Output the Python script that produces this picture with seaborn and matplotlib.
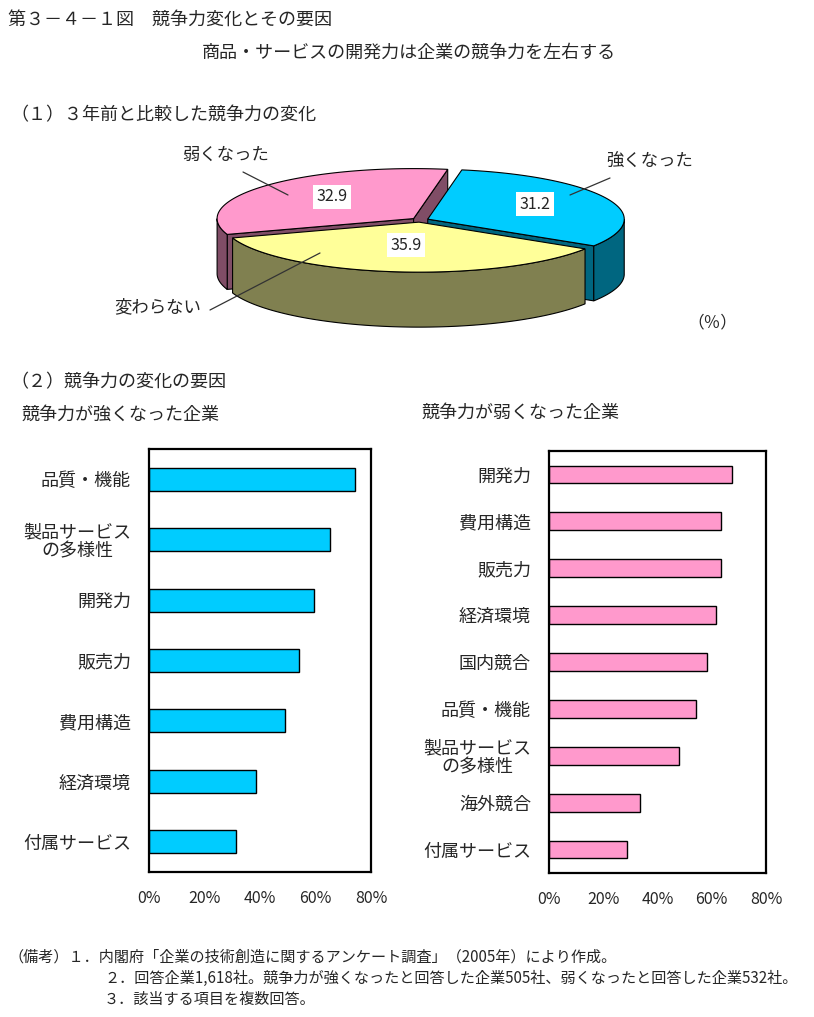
import numpy as np
import pandas as pd
import matplotlib
matplotlib.use("Agg")
import matplotlib.pyplot as plt
import seaborn as sns
from matplotlib.patches import Polygon

# ---------------- data ----------------
pie_labels = ["強くなった", "変わらない", "弱くなった"]
pie_values = [31.2, 35.9, 32.9]

strong_factors = ["品質・機能", "製品サービス\nの多様性", "開発力", "販売力",
                  "費用構造", "経済環境", "付属サービス"]
strong_values = [74.3, 65.4, 59.6, 54.2, 49.1, 38.7, 31.5]

weak_factors = ["開発力", "費用構造", "販売力", "経済環境", "国内競合",
                "品質・機能", "製品サービス\nの多様性", "海外競合", "付属サービス"]
weak_values = [67.6, 63.5, 63.5, 61.7, 58.4, 54.3, 48.0, 33.7, 28.9]

x_ticks = [0, 20, 40, 60, 80]
x_ticklabels = ["0%", "20%", "40%", "60%", "80%"]

title = "第３－４－１図　競争力変化とその要因"
subtitle = "商品・サービスの開発力は企業の競争力を左右する"
sec1 = "（１）３年前と比較した競争力の変化"
sec2 = "（２）競争力の変化の要因"
sub_left = "競争力が強くなった企業"
sub_right = "競争力が弱くなった企業"
notes = ["（備考）１．内閣府「企業の技術創造に関するアンケート調査」（2005年）により作成。",
         "２．回答企業1,618社。競争力が強くなったと回答した企業505社、弱くなったと回答した企業532社。",
         "３．該当する項目を複数回答。"]

# ---------------- style ----------------
sns.set_theme(style="white")
plt.rcParams['font.family'] = ['Noto Sans CJK JP', 'DejaVu Sans']
FS = 13

W, H = 814, 1017
fig = plt.figure(figsize=(W / 100, H / 100), dpi=100)
fig.patch.set_facecolor("white")
bg = fig.add_axes([0, 0, 1, 1])
bg.set_xlim(0, W)
bg.set_ylim(H, 0)
bg.axis("off")


def fax(l, t, r, b):
    return fig.add_axes([l / W, 1 - b / H, (r - l) / W, (b - t) / H])


# ---------------- texts ----------------
bg.text(8, 20, title, fontsize=FS, va="center", ha="left")
bg.text(409, 53, subtitle, fontsize=FS, va="center", ha="center")
bg.text(10, 115, sec1, fontsize=FS, va="center", ha="left")
bg.text(712, 323, "（％）", fontsize=12, va="center", ha="center")
bg.text(10, 382, sec2, fontsize=FS, va="center", ha="left")
bg.text(22, 415, sub_left, fontsize=FS, va="center", ha="left")
bg.text(422, 413, sub_right, fontsize=FS, va="center", ha="left")
NFS = 10.9
bg.text(8, 957, notes[0], fontsize=NFS, va="center", ha="left")
bg.text(104, 978, notes[1], fontsize=NFS, va="center", ha="left")
bg.text(104, 999, notes[2], fontsize=NFS, va="center", ha="left")

# ---------------- 3D pie ----------------
cx, cy, a, b, depth = 420, 220, 196.5, 50, 55
explode = 0.043
start = 80.0
tops = ["#00CCFF", "#FFFF99", "#FF99CC"]
sides = ["#006680", "#808050", "#804D66"]

slices = []
cum = 0.0
for i, v in enumerate(pie_values):
    hi = start - cum * 3.6
    lo = hi - v * 3.6
    cum += v
    mid = np.deg2rad((hi + lo) / 2)
    ox = explode * a * np.cos(mid)
    oy = -explode * b * np.sin(mid)
    slices.append(dict(i=i, lo=np.deg2rad(lo), hi=np.deg2rad(hi), mid=mid, ox=ox, oy=oy))


def rim(s, t, dz=0.0):
    return (cx + s["ox"] + a * np.cos(t), cy + s["oy"] - b * np.sin(t) + dz)


order = sorted(slices, key=lambda s: cy + s["oy"] - b * np.sin(s["mid"]))
for s in order:
    i = s["i"]
    c0 = (cx + s["ox"], cy + s["oy"])
    # radial cut faces
    for t, vis in ((s["hi"], np.cos(s["hi"]) < 0), (s["lo"], np.cos(s["lo"]) > 0)):
        if vis:
            p = [c0, rim(s, t), rim(s, t, depth), (c0[0], c0[1] + depth)]
            bg.add_patch(Polygon(p, closed=True, fc=sides[i], ec="black", lw=0.8))
    # curved wall
    ts = np.linspace(s["lo"], s["hi"], 400)
    mask = np.sin(ts) < 0
    if mask.any():
        idx = np.where(mask)[0]
        splits = np.split(idx, np.where(np.diff(idx) != 1)[0] + 1)
        for seg in splits:
            tt = ts[seg]
            top = [rim(s, t) for t in tt]
            bot = [rim(s, t, depth) for t in tt[::-1]]
            bg.add_patch(Polygon(top + bot, closed=True, fc=sides[i], ec="black", lw=0.8))
    # top face
    tt = np.linspace(s["lo"], s["hi"], 300)
    poly = [c0] + [rim(s, t) for t in tt]
    bg.add_patch(Polygon(poly, closed=True, fc=tops[i], ec="black", lw=0.8))

# value labels
for s in slices:
    r = 0.55
    x = cx + s["ox"] + r * a * np.cos(s["mid"])
    y = cy + s["oy"] - r * b * np.sin(s["mid"]) - 4
    if s["i"] == 0:
        x += 8
    bg.text(x, y, f"{pie_values[s['i']]:.1f}", fontsize=11.5, ha="center", va="center",
            bbox=dict(fc="white", ec="none", pad=2.5), zorder=5)

# category labels with leader lines
lab_pos = {0: (650, 162), 1: (158, 307), 2: (226, 155)}
lead = {0: ((610, 178), (570, 195)), 1: ((210, 310), (320, 253)), 2: ((243, 172), (288, 195))}
for i, name in enumerate(pie_labels):
    bg.text(*lab_pos[i], name, fontsize=12.5, ha="center", va="center")
    (x0, y0), (x1, y1) = lead[i]
    bg.plot([x0, x1], [y0, y1], color="#333333", lw=0.9, zorder=6)


# ---------------- bar charts ----------------
def bar_panel(ax, cats, vals, color):
    df = pd.DataFrame({"factor": cats, "value": vals})
    sns.barplot(data=df, x="value", y="factor", orient="h", color=color, saturation=1,
                edgecolor="black", linewidth=1.0, width=0.38, ax=ax)
    ax.set_xlim(0, 80)
    ax.set_ylim(len(cats) - 0.5, -0.5)
    ax.set_xticks(x_ticks)
    ax.set_xticklabels(x_ticklabels, fontsize=11.5)
    ax.set_xlabel("")
    ax.set_ylabel("")
    ax.tick_params(axis="x", direction="in", length=5, width=1, color="black", pad=13)
    ax.tick_params(axis="y", which="major", length=0, pad=13, labelsize=FS)
    ax.set_yticks(np.arange(len(cats) - 1) + 0.5, minor=True)
    ax.tick_params(axis="y", which="minor", direction="in", length=5, width=1, color="black")
    for lab in ax.get_yticklabels():
        lab.set_multialignment("center")
        lab.set_linespacing(1.05)
    for sp in ax.spines.values():
        sp.set_visible(True)
        sp.set_color("black")
        sp.set_linewidth(1.6)
    ax.set_facecolor("white")


ax1 = fax(149, 449, 371, 872)
bar_panel(ax1, strong_factors, strong_values, "#00CCFF")
ax2 = fax(549, 451, 766, 873)
bar_panel(ax2, weak_factors, weak_values, "#FF99CC")

fig.savefig("out.png", dpi=100, facecolor="white")
